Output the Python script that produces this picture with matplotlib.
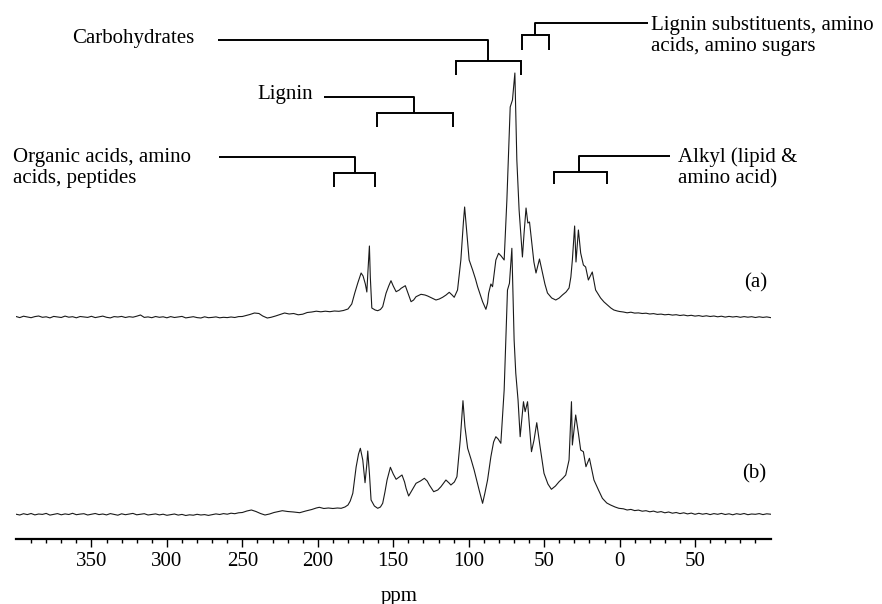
import matplotlib
matplotlib.use("Agg")
import matplotlib.pyplot as plt
from matplotlib.ticker import FixedLocator, FuncFormatter

plt.rcParams['font.family'] = ['Liberation Serif', 'DejaVu Serif']

# baseline stretches shared by both spectra (ppm)
base_left_ppm = [400.0, 397.5, 395.0, 392.5, 390.0, 387.5, 385.0, 382.5, 380.0, 377.5,
                 375.0, 372.5, 370.0, 367.5, 365.0, 362.5, 360.0, 357.5, 355.0, 352.5,
                 350.0, 347.5, 345.0, 342.5, 340.0, 337.5, 335.0, 332.5, 330.0, 327.5,
                 325.0, 322.5, 320.0, 317.5, 315.0, 312.5, 310.0, 307.5, 305.0, 302.5,
                 300.0, 297.5, 295.0, 292.5, 290.0, 287.5, 285.0, 282.5, 280.0, 277.5,
                 275.0, 272.5, 270.0, 267.5, 265.0, 262.5, 260.0, 257.5, 255.0, 252.5]
base_right_ppm = [-2.5, -5.0, -7.5, -10.0, -12.5, -15.0, -17.5, -20.0, -22.5, -25.0,
                  -27.5, -30.0, -32.5, -35.0, -37.5, -40.0, -42.5, -45.0, -47.5, -50.0,
                  -52.5, -55.0, -57.5, -60.0, -62.5, -65.0, -67.5, -70.0, -72.5, -75.0,
                  -77.5, -80.0, -82.5, -85.0, -87.5, -90.0, -92.5, -95.0, -97.5, -100.0]

# spectrum (a)
a_left = [0.5, -0.6, 0.8, 0.1, -0.7, 0.4, 1.0, -0.3, 0.2, -0.9,
          0.6, 0.0, -0.5, 0.9, -0.2, 0.3, -0.8, 0.5, 0.1, -0.4,
          0.7, -0.6, 0.2, 0.9, -0.3, -0.9, 0.4, 0.0, 0.6, -0.5,
          0.3, -0.2, 0.8, 2.0, -0.4, 0.1, -0.7, 0.5, -0.3, 0.2,
          -0.8, 0.4, -0.5, 0.0, 0.6, -0.9, -0.3, 0.3, -0.6, -1.0,
          0.2, -0.7, -0.4, 0.1, -0.8, -0.3, -0.6, 0.0, -0.5, 0.4]
a_mid_ppm = [250, 247.5, 245, 242, 239, 236.5, 233.5, 231, 228, 225, 222, 219, 216, 213, 210,
             207, 204, 201, 198, 195, 192, 189, 186, 183, 180, 177.5, 175.5, 173.5, 172, 171.3,
             170, 168.5, 167.5, 166.8, 165.8, 165.2, 164.2, 162, 160.3, 158.5, 157, 154.8, 153,
             151.5, 150, 148.1, 146, 144.8, 142, 140, 138.2, 136.5, 134.9, 131.6, 129, 127.2,
             124.5, 121.7, 119.5, 117.3, 115, 112.9, 111, 109.6, 107.4, 105.2, 103.5, 102.7,
             101.2, 99.7, 97.4, 95.5, 94.1, 92.3, 90.8, 88.6, 87.5, 86.8, 85.3, 84.2, 83, 82,
             80.2, 78.5, 76.5, 74.7, 72.5, 71, 69.4, 68.1, 66.6, 64.4, 63.3, 62, 60.8, 59.7,
             58.4, 56.8, 55.4, 53.1, 51.1, 49.5, 47.8, 45, 42.3, 40, 37.9, 35.5, 33.5, 32.3,
             31.3, 29.8, 28.9, 27.3, 25.8, 24, 22.5, 20.7, 18.1, 15.9, 12.6, 10.3, 8.1, 5.8,
             3.8, 1.5, 0]
a_mid = [0.5, 1.5, 2.5, 4, 3.5, 1.0, -1.0, -0.3, 1.0, 2.5, 4, 3, 3.5, 2.2, 2.8,
         4.5, 5, 5.8, 5.2, 5.8, 5.3, 6, 5.7, 6.5, 8, 13, 24, 34, 41, 44,
         41, 33, 25, 45, 71, 40, 9, 7, 6.3, 7.5, 10.3, 23.7, 31,
         36.3, 31, 25.3, 27, 28.7, 31.3, 23, 15.3, 17, 20.3, 22.7, 22, 21,
         19, 17, 18, 19.7, 22, 24.7, 22, 19.7, 27, 57, 95, 110,
         84, 57, 47, 38, 30.3, 22, 15.3, 7.7, 14, 23.7, 33, 30.3, 45, 57,
         63.7, 61, 57, 117, 210, 217, 244, 157, 107, 60, 84, 109, 94, 95,
         77, 55, 44, 58, 44, 33, 24, 19, 17, 19, 22, 25, 29, 40,
         57, 91, 55, 87, 64, 52, 50, 37, 45, 27, 19, 15, 12, 9,
         7, 6, 5.5]
a_right = [5.0, 4.2, 4.8, 3.9, 4.1, 3.5, 3.8, 3.0, 3.4, 2.6,
           2.9, 2.2, 2.6, 1.9, 2.3, 1.5, 2.0, 1.2, 1.7, 0.9,
           1.4, 0.6, 1.2, 0.5, 1.0, 0.2, 0.8, -0.1, 0.6, 0.0,
           0.5, -0.3, 0.4, -0.2, 0.3, -0.5, 0.2, -0.4, 0.1, -0.6]

# spectrum (b)
b_left = [-0.2, -1.0, 0.3, -0.6, 0.5, -0.9, 0.0, -0.4, 0.6, -1.1,
          -0.3, 0.4, -0.8, 0.1, -0.5, 0.7, -0.7, -0.1, 0.3, -1.0,
          -0.2, 0.5, -0.6, 0.0, -0.9, 0.4, -0.4, -1.2, 0.2, -0.7,
          -0.1, 0.6, -0.8, -0.3, 0.3, -1.0, -0.5, 0.1, -0.9, -0.2,
          -1.3, -0.6, 0.0, -1.1, -0.4, -1.5, -0.8, -1.2, -0.3, -1.0,
          -0.6, -1.4, -0.7, 0.1, -0.5, 0.4, -0.2, 0.8, 0.3, 1.2]
b_mid_ppm = [250, 247, 244, 241, 238, 235, 232, 229, 226, 223.5, 220, 216, 212, 208, 204,
             201, 199, 196, 193, 190, 187, 184.5, 182, 180, 178.5, 176.8, 174.6, 173, 171.8,
             170.2, 168.7, 167.5, 166.9, 165.8, 164.7, 162.5, 160.3, 158.5, 157, 155.5, 154.1,
             151.9, 150, 148.1, 146, 144.2, 142.5, 141.5, 139.8, 137.5, 134.9, 132, 129.4,
             127.5, 126.1, 123.2, 120.5, 118.4, 115.1, 113, 111.8, 109.5, 107.8, 105.6, 103.8,
             102.5, 100.7, 98.5, 96.4, 93.1, 90.8, 89.3, 87.5, 85.3, 83.5, 82, 80.5, 78.7,
             76.5, 74.3, 73, 71.4, 69.9, 68.8, 67.3, 65.9, 63.7, 62.6, 61, 59.7, 58.4, 56.7,
             54.9, 52.7, 50.1, 47.5, 45.2, 42.5, 40.1, 37.5, 35.7, 33.5, 31.9, 31.3, 29.1,
             27.3, 25.8, 24, 22.3, 20, 18.5, 17, 14, 11.4, 8.5, 6, 3, 0.5]
b_mid = [1.5, 3, 4, 2.5, 0.5, -1, 0, 1.5, 2.5, 3.3, 2.5, 2, 1.3, 3, 4.5,
         6, 6.7, 5.5, 6, 5.5, 6, 5.7, 7, 9, 13, 20.7, 47, 60, 65.7,
         54, 31.3, 50, 63, 40.7, 14, 8, 5.7, 7, 10.7, 22, 34,
         46.7, 40, 34.7, 37, 39, 32, 25.7, 18, 24, 30.7, 33, 35.7,
         33, 29, 22.3, 24, 27.3, 34, 31, 29, 32, 37.3, 74, 113.3,
         87.3, 65.7, 55, 44, 24, 10.7, 20.7, 34, 57.3, 72, 77.3, 75, 70.7,
         124, 224, 230.7, 265.7, 174, 140.7, 114, 77.3, 112.3, 102.3, 112.3, 87.3, 62.3, 74,
         91.3, 67.3, 40.7, 30, 24.7, 28, 32.3, 36, 39, 54, 112.3, 69, 99,
         80.7, 64, 62.3, 47.3, 55.7, 45, 34, 24, 15.7, 11, 9, 7, 5.7]
b_right = [5.2, 4.0, 4.6, 3.4, 3.9, 2.8, 3.3, 2.2, 2.9, 1.7,
           2.4, 1.2, 2.0, 0.8, 1.5, 0.4, 1.2, 0.1, 0.9, -0.3,
           0.7, -0.2, 0.5, -0.6, 0.4, -0.3, 0.6, -0.5, 0.2, -0.8,
           0.3, -0.4, 0.5, -0.7, 0.0, -0.3, 0.4, -0.6, 0.2, -0.2]

major_ticks = [350, 300, 250, 200, 150, 100, 50, 0, -50]

# region brackets: label, text x/y, align, line start x, knee x, bracket ends, levels
brackets = [
    ("Carbohydrates", 281.7, 501, 'right', 265.9, 87.3, 108.5, 65.5, 499, 478, 464),
    ("Lignin", 203.0, 444, 'right', 195.8, 136.2, 160.7, 110.4, 442, 426, 412),
    ("Organic acids, amino\nacids, peptides", 402.0, 371, 'left', 265.2, 175.3, 189.2, 162.0, 382, 366, 352),
    ("Lignin substituents, amino\nacids, amino sugars", -20.5, 503, 'left', -18.5, 56.2, 64.8, 47.0, 516, 504, 489),
    ("Alkyl (lipid &\namino acid)", -38.4, 371, 'left', -33.7, 27.1, 43.7, 8.6, 383, 367.5, 355),
]

offset_a = 222
offset_b = 25

fig = plt.figure(figsize=(8.82, 6.04), dpi=100)
ax = fig.add_axes([16 / 882, 65 / 604, 754.5 / 882, 539 / 604])

ppm_a = base_left_ppm + a_mid_ppm + base_right_ppm
int_a = a_left + a_mid + a_right
ppm_b = base_left_ppm + b_mid_ppm + base_right_ppm
int_b = b_left + b_mid + b_right

ax.plot(ppm_a, [v + offset_a for v in int_a], color='#1a1a1a', lw=0.8)
ax.plot(ppm_b, [v + offset_b for v in int_b], color='#1a1a1a', lw=0.8)

ax.text(-90, offset_a + 34, "(a)", fontsize=15, ha='center', va='center')
ax.text(-89, offset_b + 40, "(b)", fontsize=15, ha='center', va='center')

for label, tx, ty, ha, x0, xk, xl, xr, y_top, y_br, y_leg in brackets:
    ax.text(tx, ty, label, fontsize=15, ha=ha, va='center', linespacing=1.2)
    ax.plot([x0, xk, xk], [y_top, y_top, y_br], color='black', lw=1.4, solid_capstyle='butt')
    ax.plot([xl, xl, xr, xr], [y_leg, y_br, y_br, y_leg], color='black', lw=1.4,
            solid_capstyle='butt', solid_joinstyle='miter')

ax.set_xlim(400, -100)
ax.set_ylim(0, 539)
for side in ['top', 'left', 'right']:
    ax.spines[side].set_visible(False)
ax.spines['bottom'].set_linewidth(1.6)
ax.set_yticks([])
ax.xaxis.set_major_locator(FixedLocator(major_ticks))
ax.xaxis.set_minor_locator(FixedLocator([v for v in range(390, -100, -10) if v % 50 != 0]))
ax.xaxis.set_major_formatter(FuncFormatter(lambda v, p: f"{abs(v):g}"))
ax.tick_params(axis='x', which='major', direction='out', length=6, width=1.0, labelsize=15, pad=3)
ax.tick_params(axis='x', which='minor', direction='out', length=3, width=1.0)
ax.patch.set_alpha(0)

fig.text(399 / 882, 8 / 604, "ppm", fontsize=15, ha='center', va='center')

fig.savefig("out.png", dpi=100)
